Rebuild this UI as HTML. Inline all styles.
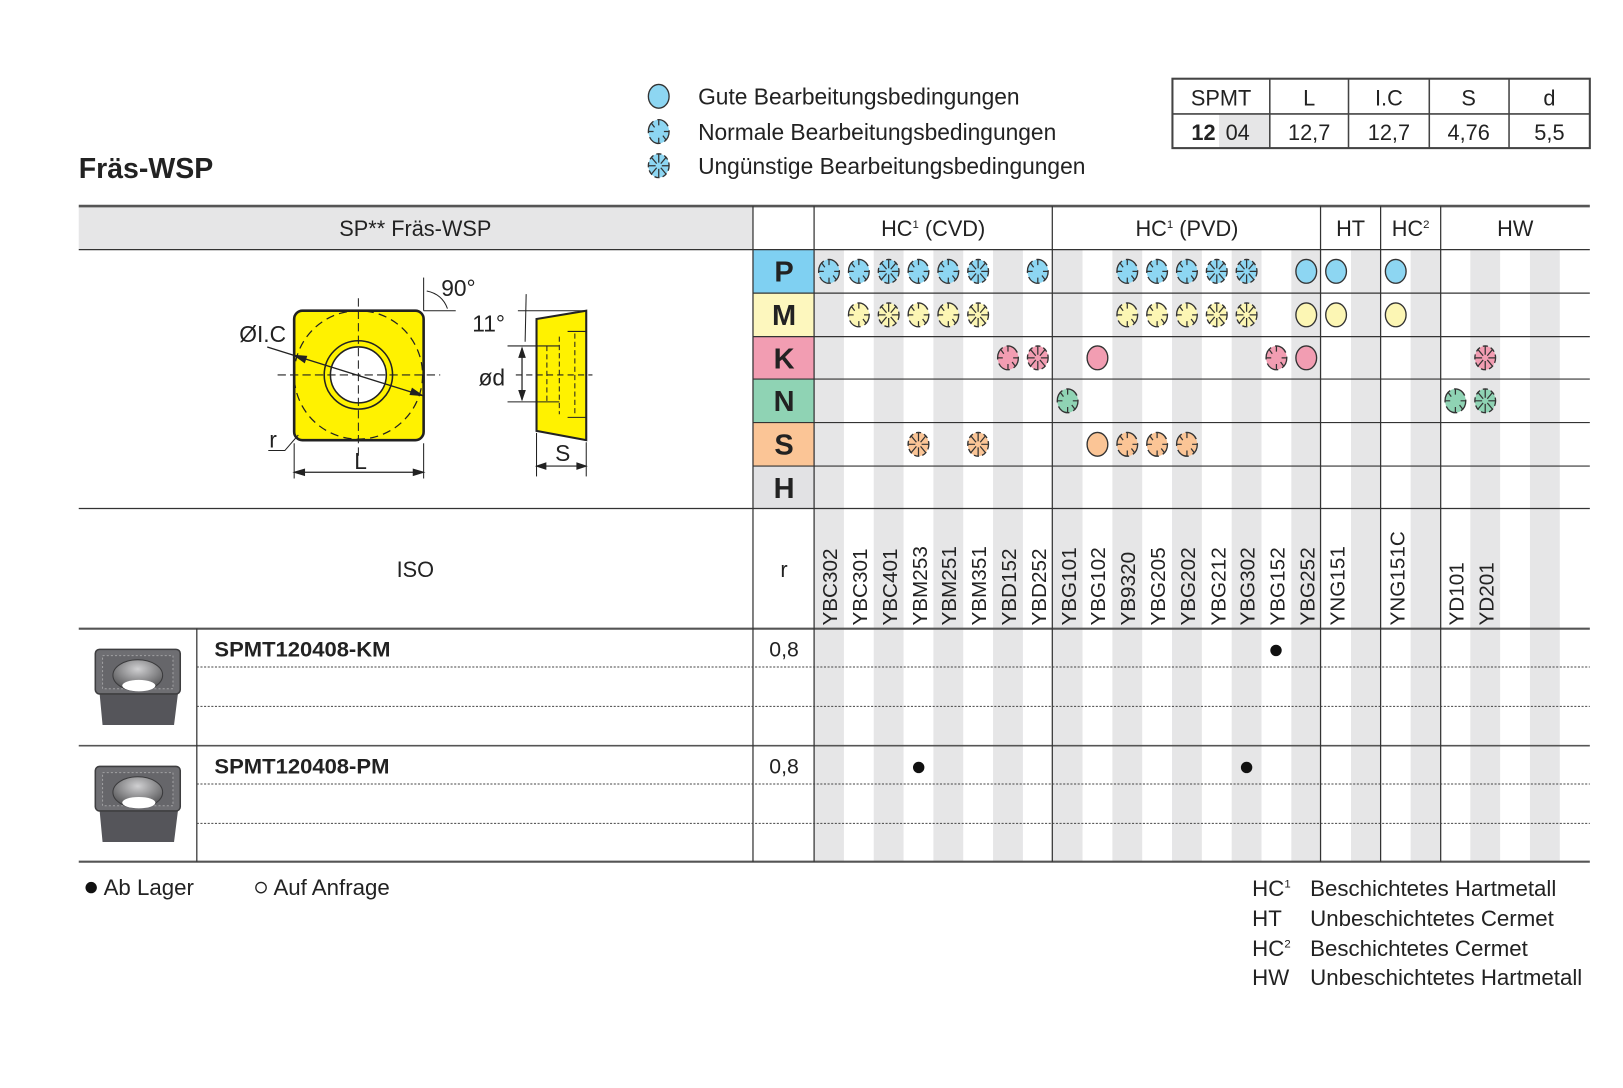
<!DOCTYPE html>
<html><head><meta charset="utf-8"><style>
html,body{margin:0;padding:0;background:#fff;}
svg{display:block;font-family:"Liberation Sans",sans-serif;}
</style></head><body>
<svg width="1623" height="1088" viewBox="0 0 1567 1050.5" xmlns="http://www.w3.org/2000/svg">
<defs>
<symbol id="g" overflow="visible"><ellipse cx="0" cy="0" rx="10" ry="11.5" stroke="#333" stroke-width="1.3"/></symbol>
<symbol id="n" overflow="visible"><ellipse cx="0" cy="0" rx="10" ry="11.5" stroke="#333" stroke-width="1.3" stroke-dasharray="13 4" stroke-dashoffset="2"/>
<path d="M0,-11 V-6 M0,11 V6 M-10,0 H-5 M10,0 H5 M-7,-8 L-4,-4 M7,8 L4,4" stroke="#333" stroke-width="1.2" fill="none"/></symbol>
<symbol id="u" overflow="visible"><ellipse cx="0" cy="0" rx="10" ry="11.5" stroke="#333" stroke-width="1.3" stroke-dasharray="5 3"/>
<path d="M0,-11 V-3 M0,11 V3 M-10,0 H-3 M10,0 H3 M-7,-8 L-2,-2 M7,8 L2,2 M7,-8 L2,-2 M-7,8 L-2,2" stroke="#333" stroke-width="1.2" fill="none"/></symbol>
<radialGradient id="hole" cx="0.5" cy="0.3" r="0.7"><stop offset="0" stop-color="#d0d0d2"/><stop offset="1" stop-color="#505052"/></radialGradient>
</defs>

<text x="76" y="172" font-size="27.5" font-weight="bold" fill="#222">Fräs-WSP</text>

<use href="#g" x="636" y="93" fill="#8dd6f2"/>
<use href="#n" x="636" y="127" fill="#8dd6f2"/>
<use href="#u" x="636" y="160" fill="#8dd6f2"/>
<g font-size="22" fill="#222">
<text x="674" y="101">Gute Bearbeitungsbedingungen</text>
<text x="674" y="135">Normale Bearbeitungsbedingungen</text>
<text x="674" y="168">Ungünstige Bearbeitungsbedingungen</text>
</g>

<rect x="1177" y="110" width="49" height="33" fill="#e6e6e7"/>
<g stroke="#444" stroke-width="1.5" fill="none">
<rect x="1132" y="76" width="403" height="67" stroke-width="2"/>
<line x1="1132" y1="110" x2="1535" y2="110"/>
<line x1="1226" y1="76" x2="1226" y2="143"/>
<line x1="1302" y1="76" x2="1302" y2="143"/>
<line x1="1380" y1="76" x2="1380" y2="143"/>
<line x1="1457" y1="76" x2="1457" y2="143"/>
</g>
<g font-size="21" fill="#222" text-anchor="middle">
<text x="1179" y="102">SPMT</text><text x="1264" y="102">L</text><text x="1341" y="102">I.C</text><text x="1418" y="102">S</text><text x="1496" y="102">d</text>
<text x="1162" y="135" font-weight="bold">12</text><text x="1195" y="135">04</text>
<text x="1264" y="135">12,7</text><text x="1341" y="135">12,7</text><text x="1418" y="135">4,76</text><text x="1496" y="135">5,5</text>
</g>

<rect x="76" y="199" width="651" height="42" fill="#e6e6e7"/>
<g fill="#e6e6e7">
<rect x="786" y="241" width="28.8" height="591"/><rect x="843.6" y="241" width="28.8" height="591"/><rect x="901.2" y="241" width="28.8" height="591"/><rect x="958.8" y="241" width="28.8" height="591"/><rect x="1016.4" y="241" width="28.8" height="591"/><rect x="1074" y="241" width="28.8" height="591"/><rect x="1131.6" y="241" width="28.8" height="591"/><rect x="1189.2" y="241" width="28.8" height="591"/><rect x="1246.8" y="241" width="28.8" height="591"/><rect x="1304.4" y="241" width="28.8" height="591"/><rect x="1362" y="241" width="28.8" height="591"/><rect x="1419.6" y="241" width="28.8" height="591"/><rect x="1477.2" y="241" width="28.8" height="591"/>
</g>
<rect x="727" y="241" width="59" height="42" fill="#7fd0f2"/>
<rect x="727" y="283" width="59" height="42" fill="#fdf7be"/>
<rect x="727" y="325" width="59" height="41" fill="#f29db2"/>
<rect x="727" y="366" width="59" height="42" fill="#8fd3b4"/>
<rect x="727" y="408" width="59" height="42" fill="#fbc596"/>
<rect x="727" y="450" width="59" height="41" fill="#e2e2e4"/>
<g font-size="28" font-weight="bold" fill="#222" text-anchor="middle">
<text x="757" y="272">P</text><text x="757" y="314">M</text><text x="757" y="356">K</text><text x="757" y="397">N</text><text x="757" y="439">S</text><text x="757" y="481">H</text>
</g>

<g stroke="#333" stroke-width="1.2" fill="none">
<line x1="76" y1="199" x2="1535" y2="199" stroke="#555" stroke-width="2.5"/>
<line x1="76" y1="241" x2="1535" y2="241"/>
<line x1="727" y1="283" x2="1535" y2="283"/>
<line x1="727" y1="325" x2="1535" y2="325"/>
<line x1="727" y1="366" x2="1535" y2="366"/>
<line x1="727" y1="408" x2="1535" y2="408"/>
<line x1="727" y1="450" x2="1535" y2="450"/>
<line x1="76" y1="491" x2="1535" y2="491"/>
<line x1="76" y1="607" x2="1535" y2="607" stroke="#555" stroke-width="2"/>
<line x1="76" y1="720" x2="1535" y2="720" stroke="#555" stroke-width="1.5"/>
<line x1="76" y1="832" x2="1535" y2="832" stroke="#555" stroke-width="2"/>
<line x1="727" y1="199" x2="727" y2="832"/>
<line x1="786" y1="199" x2="786" y2="832"/>
<line x1="1016" y1="199" x2="1016" y2="832"/>
<line x1="1275" y1="199" x2="1275" y2="832"/>
<line x1="1333" y1="199" x2="1333" y2="832"/>
<line x1="1391" y1="199" x2="1391" y2="832"/>
<line x1="190" y1="607" x2="190" y2="832"/>
</g>
<g stroke="#444" stroke-width="1" stroke-dasharray="2 1.5">
<line x1="190" y1="644" x2="1535" y2="644"/><line x1="190" y1="682" x2="1535" y2="682"/>
<line x1="190" y1="757" x2="1535" y2="757"/><line x1="190" y1="795" x2="1535" y2="795"/>
</g>

<g font-size="21" fill="#222" text-anchor="middle">
<text x="401" y="228">SP** Fräs-WSP</text>
<text x="901" y="228">HC<tspan font-size="11" dy="-8">1</tspan><tspan dy="8"> (CVD)</tspan></text>
<text x="1146" y="228">HC<tspan font-size="11" dy="-8">1</tspan><tspan dy="8"> (PVD)</tspan></text>
<text x="1304" y="228">HT</text>
<text x="1362" y="228">HC<tspan font-size="11" dy="-8">2</tspan></text>
<text x="1463" y="228">HW</text>
<text x="401" y="557">ISO</text>
<text x="757" y="557">r</text>
</g>

<g font-size="20" fill="#222">
<text transform="translate(808,604) rotate(-90)">YBC302</text>
<text transform="translate(837,604) rotate(-90)">YBC301</text>
<text transform="translate(866,604) rotate(-90)">YBC401</text>
<text transform="translate(895,604) rotate(-90)">YBM253</text>
<text transform="translate(923,604) rotate(-90)">YBM251</text>
<text transform="translate(952,604) rotate(-90)">YBM351</text>
<text transform="translate(981,604) rotate(-90)">YBD152</text>
<text transform="translate(1010,604) rotate(-90)">YBD252</text>
<text transform="translate(1039,604) rotate(-90)">YBG101</text>
<text transform="translate(1067,604) rotate(-90)">YBG102</text>
<text transform="translate(1096,604) rotate(-90)">YB9320</text>
<text transform="translate(1125,604) rotate(-90)">YBG205</text>
<text transform="translate(1154,604) rotate(-90)">YBG202</text>
<text transform="translate(1183,604) rotate(-90)">YBG212</text>
<text transform="translate(1211,604) rotate(-90)">YBG302</text>
<text transform="translate(1240,604) rotate(-90)">YBG152</text>
<text transform="translate(1269,604) rotate(-90)">YBG252</text>
<text transform="translate(1298,604) rotate(-90)">YNG151</text>
<text transform="translate(1356,604) rotate(-90)">YNG151C</text>
<text transform="translate(1413,604) rotate(-90)">YD101</text>
<text transform="translate(1442,604) rotate(-90)">YD201</text>
</g>

<g fill="#8dd6f2">
<use href="#n" x="800.4" y="262"/><use href="#n" x="829.2" y="262"/><use href="#u" x="858" y="262"/><use href="#n" x="886.8" y="262"/><use href="#n" x="915.6" y="262"/><use href="#u" x="944.4" y="262"/><use href="#n" x="1002" y="262"/>
<use href="#n" x="1088.4" y="262"/><use href="#n" x="1117.2" y="262"/><use href="#n" x="1146" y="262"/><use href="#u" x="1174.8" y="262"/><use href="#u" x="1203.6" y="262"/><use href="#g" x="1261.2" y="262"/><use href="#g" x="1290" y="262"/><use href="#g" x="1347.6" y="262"/>
</g>
<g fill="#fcf6b4">
<use href="#n" x="829.2" y="304"/><use href="#u" x="858" y="304"/><use href="#n" x="886.8" y="304"/><use href="#n" x="915.6" y="304"/><use href="#u" x="944.4" y="304"/>
<use href="#n" x="1088.4" y="304"/><use href="#n" x="1117.2" y="304"/><use href="#n" x="1146" y="304"/><use href="#u" x="1174.8" y="304"/><use href="#u" x="1203.6" y="304"/><use href="#g" x="1261.2" y="304"/><use href="#g" x="1290" y="304"/><use href="#g" x="1347.6" y="304"/>
</g>
<g fill="#f29db2">
<use href="#n" x="973.2" y="345.5"/><use href="#u" x="1002" y="345.5"/><use href="#g" x="1059.6" y="345.5"/><use href="#n" x="1232.4" y="345.5"/><use href="#g" x="1261.2" y="345.5"/><use href="#u" x="1434" y="345.5"/>
</g>
<g fill="#8fd3b4">
<use href="#n" x="1030.8" y="387"/><use href="#n" x="1405.2" y="387"/><use href="#u" x="1434" y="387"/>
</g>
<g fill="#fbc596">
<use href="#u" x="886.8" y="429"/><use href="#u" x="944.4" y="429"/><use href="#g" x="1059.6" y="429"/><use href="#n" x="1088.4" y="429"/><use href="#n" x="1117.2" y="429"/><use href="#n" x="1146" y="429"/>
</g>

<g font-size="20.5" font-weight="bold" fill="#222">
<text x="207" y="634" textLength="170" lengthAdjust="spacingAndGlyphs">SPMT120408-KM</text>
<text x="207" y="747" textLength="169" lengthAdjust="spacingAndGlyphs">SPMT120408-PM</text>
</g>
<g font-size="20.5" fill="#222" text-anchor="middle">
<text x="757" y="634">0,8</text><text x="757" y="747">0,8</text>
</g>
<g fill="#111">
<circle cx="1232" cy="628" r="5.5"/><circle cx="887" cy="741" r="5.5"/><circle cx="1203.6" cy="741" r="5.5"/>
</g>

<g>
<polygon points="96,668 172,668 168,700 99,700" fill="#55555a"/>
<rect x="92" y="627" width="82" height="43" rx="4" fill="#6e6e72" stroke="#3e3e40" stroke-width="1.5"/>
<rect x="99" y="633" width="68" height="32" fill="#66666a" stroke="#a0a0a2" stroke-width="1" stroke-dasharray="2 2"/>
<ellipse cx="133" cy="652" rx="24" ry="15" fill="url(#hole)" stroke="#3a3a3c"/>
<ellipse cx="134" cy="662" rx="16" ry="5.5" fill="#fff"/>
</g>
<g>
<polygon points="96,781 172,781 168,813 99,813" fill="#55555a"/>
<rect x="92" y="740" width="82" height="43" rx="4" fill="#6e6e72" stroke="#3e3e40" stroke-width="1.5"/>
<rect x="99" y="746" width="68" height="32" fill="#66666a" stroke="#a0a0a2" stroke-width="1" stroke-dasharray="2 2"/>
<ellipse cx="133" cy="765" rx="24" ry="15" fill="url(#hole)" stroke="#3a3a3c"/>
<ellipse cx="134" cy="775" rx="16" ry="5.5" fill="#fff"/>
</g>

<g stroke="#222" fill="none">
<rect x="284" y="300" width="125" height="125" rx="8" fill="#fff200" stroke-width="2.5"/>
<circle cx="346" cy="362" r="62" stroke-width="1.2" stroke-dasharray="8 5"/>
<circle cx="346" cy="362" r="33" stroke-width="1.5"/>
<circle cx="346" cy="362" r="27" fill="#fff" stroke-width="1.5"/>
<line x1="346" y1="288" x2="346" y2="440" stroke-width="1" stroke-dasharray="8 4"/>
<line x1="268" y1="362" x2="425" y2="362" stroke-width="1" stroke-dasharray="8 4"/>
<line x1="258" y1="335" x2="408" y2="382" stroke-width="1.3"/>
<path d="M408,382 l-10,-7 l-2,6 z M284,343 l10,7 l2,-6 z" fill="#222"/>
<line x1="409" y1="268" x2="409" y2="300" stroke-width="1"/>
<line x1="409" y1="300" x2="440" y2="300" stroke-width="1"/>
<path d="M412,281 Q427,284 432,298" stroke-width="1"/>
<line x1="284" y1="428" x2="284" y2="462" stroke-width="1"/>
<line x1="409" y1="428" x2="409" y2="462" stroke-width="1"/>
<line x1="284" y1="456" x2="409" y2="456" stroke-width="1.2"/>
<path d="M284,456 l10,-3 v6 z M409,456 l-10,-3 v6 z" fill="#222"/>
<path d="M259,435 H275 L288,420" stroke-width="1"/>
<polygon points="518,308 566,300 566,425 518,416" fill="#fff200" stroke-width="2"/>
<path d="M520,334 L540,334 M566,320 L548,320 M520,388 L540,388 M566,403 L548,403" stroke-width="1"/>
<line x1="528" y1="334" x2="528" y2="388" stroke-width="1" stroke-dasharray="5 3"/>
<line x1="540" y1="325" x2="540" y2="400" stroke-width="1" stroke-dasharray="5 3"/>
<line x1="555" y1="322" x2="555" y2="402" stroke-width="1" stroke-dasharray="5 3"/>
<line x1="498" y1="362" x2="572" y2="362" stroke-width="1" stroke-dasharray="6 4"/>
<line x1="490" y1="334" x2="520" y2="334" stroke-width="1"/>
<line x1="490" y1="388" x2="520" y2="388" stroke-width="1"/>
<line x1="504" y1="336" x2="504" y2="386" stroke-width="1.2"/>
<path d="M504,336 l-3,9 h6 z M504,386 l-3,-9 h6 z" fill="#222"/>
<line x1="500" y1="300" x2="566" y2="300" stroke-width="1"/>
<path d="M508,284 L507,330" stroke-width="1"/>
<line x1="518" y1="418" x2="518" y2="460" stroke-width="1"/>
<line x1="566" y1="427" x2="566" y2="460" stroke-width="1"/>
<line x1="518" y1="450" x2="566" y2="450" stroke-width="1.2"/>
<path d="M518,450 l9,-3 v6 z M566,450 l-9,-3 v6 z" fill="#222"/>
</g>
<g font-size="22" fill="#222">
<text x="231" y="330">ØI.C</text>
<text x="426" y="286">90°</text>
<text x="456" y="320">11°</text>
<text x="462" y="372">ød</text>
<text x="260" y="432">r</text>
<text x="342" y="453">L</text>
<text x="536" y="445">S</text>
</g>

<g font-size="21.5" fill="#222">
<circle cx="88" cy="857" r="5.5" fill="#111"/>
<text x="100" y="864">Ab Lager</text>
<circle cx="252" cy="857" r="5" fill="none" stroke="#222" stroke-width="1.3"/>
<text x="264" y="864">Auf Anfrage</text>
<text x="1209" y="865">HC<tspan font-size="11" dy="-8">1</tspan></text>
<text x="1209" y="894">HT</text>
<text x="1209" y="923">HC<tspan font-size="11" dy="-8">2</tspan></text>
<text x="1209" y="951">HW</text>
<text x="1265" y="865">Beschichtetes Hartmetall</text>
<text x="1265" y="894">Unbeschichtetes Cermet</text>
<text x="1265" y="923">Beschichtetes Cermet</text>
<text x="1265" y="951">Unbeschichtetes Hartmetall</text>
</g>
</svg>
</body></html>
